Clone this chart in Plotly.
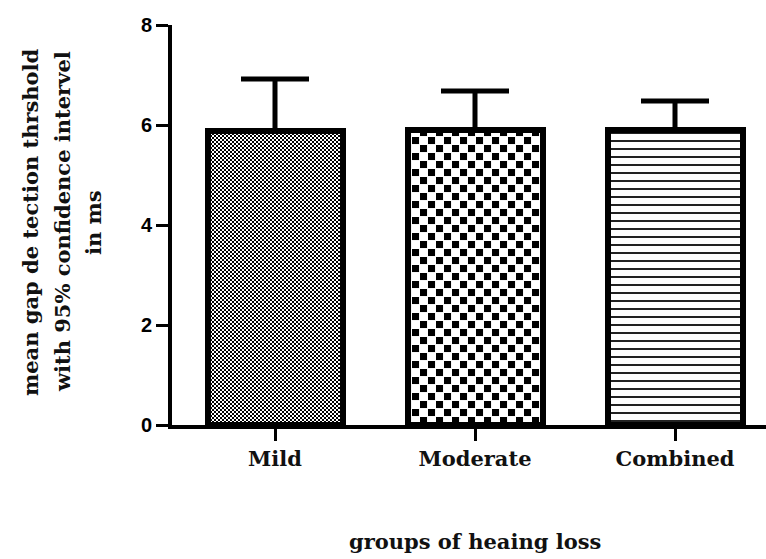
import plotly.graph_objects as go

categories = ["Mild", "Moderate", "Combined"]
means = [5.89, 5.90, 5.90]
ci_upper = [1.03, 0.78, 0.58]
y_ticks = [0, 2, 4, 6, 8]
y_title_lines = ["mean gap de tection thrshold", "with 95% confidence intervel", "in ms"]
x_title = "groups of heaing loss"

patterns = [
    dict(shape=".", size=4, solidity=0.5, fgcolor="#000", bgcolor="#fff", fillmode="replace"),
    dict(shape=".", size=16, solidity=0.5, fgcolor="#000", bgcolor="#fff", fillmode="replace"),
    dict(shape="-", size=8, solidity=0.25, fgcolor="#222", bgcolor="#fff", fillmode="replace"),
]

fig = go.Figure()
for i, cat in enumerate(categories):
    fig.add_trace(go.Bar(
        x=[i], y=[means[i]],
        width=0.675,
        marker=dict(color="#fff", pattern=patterns[i], line=dict(color="#000", width=6)),
        error_y=dict(type="data", symmetric=False, array=[ci_upper[i]], arrayminus=[0],
                     color="#000", thickness=5, width=34),
        showlegend=False,
    ))

serif = "DejaVu Serif"
fig.update_layout(
    width=766, height=559,
    margin=dict(l=172, r=0, t=25, b=134),
    paper_bgcolor="#fff", plot_bgcolor="#fff",
    bargap=0,
)
fig.update_xaxes(
    range=[-0.515, 2.455],
    tickmode="array", tickvals=[0, 1, 2], ticktext=categories,
    showline=True, linecolor="#000", linewidth=4,
    ticks="outside", ticklen=12, tickwidth=3, tickcolor="#000",
    showgrid=False, zeroline=False,
    tickfont=dict(family=serif, size=21, color="#111", weight="bold"),
)
fig.update_yaxes(
    range=[0, 8],
    tickmode="array", tickvals=y_ticks,
    showline=True, linecolor="#000", linewidth=4,
    ticks="outside", ticklen=12, tickwidth=3, tickcolor="#000",
    showgrid=False, zeroline=False,
    tickfont=dict(family="Liberation Sans", size=20, color="#000", weight="bold"),
)

xs = [-0.239, -0.185, -0.133]
for xp, line in zip(xs, y_title_lines):
    fig.add_annotation(text=line, xref="paper", yref="paper", x=xp, y=0.5075,
                       xanchor="center", yanchor="middle", textangle=-90, showarrow=False,
                       font=dict(family=serif, size=21, color="#111", weight="bold"))
fig.add_annotation(text=x_title, xref="paper", yref="paper", x=0.51, y=-0.29,
                   xanchor="center", yanchor="middle", showarrow=False,
                   font=dict(family=serif, size=21, color="#111", weight="bold"))

post = """
(function(){
  document.body.style.margin='0';
  document.body.style.padding='0';
  document.body.style.overflow='hidden';
  var ns='http://www.w3.org/2000/svg';
  document.querySelectorAll('pattern').forEach(function(p){
    var c = p.querySelector('circle'); if(!c) return;
    var s = parseFloat(p.getAttribute('width'));
    var h = s/2;
    var q = s > 8 ? h*0.88 : h;
    [[0,0],[h,h]].forEach(function(o){
      var r=document.createElementNS(ns,'rect');
      r.setAttribute('x',o[0]); r.setAttribute('y',o[1]);
      r.setAttribute('width',q); r.setAttribute('height',q);
      r.setAttribute('fill','#000');
      p.appendChild(r);
    });
    c.parentNode.removeChild(c);
  });
})();
"""
fig.write_html("out.html", post_script=post, config={"displayModeBar": False})
